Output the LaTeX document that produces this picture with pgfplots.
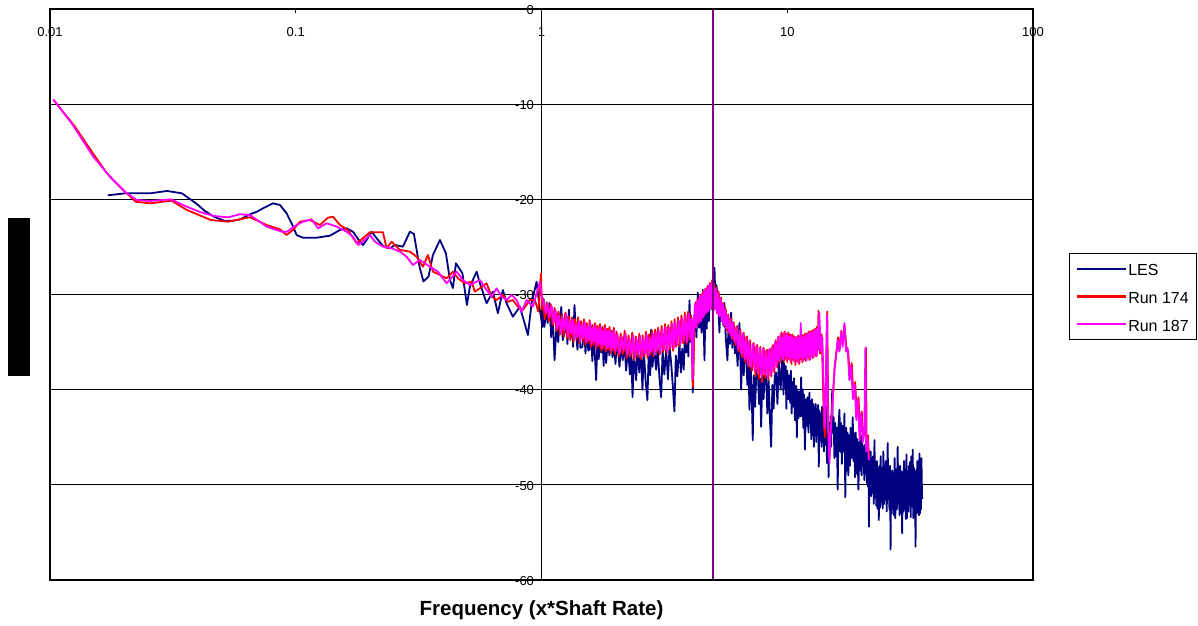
\documentclass[border=0pt]{standalone}
\usepackage{fontspec}
\setmainfont{Liberation Sans}
\usepackage{pgfplots}
\pgfplotsset{compat=1.18}
\definecolor{les}{RGB}{0,0,128}
\definecolor{runa}{RGB}{255,0,0}
\definecolor{runb}{RGB}{255,0,255}
\definecolor{marker}{RGB}{128,0,128}
\begin{document}
\begin{tikzpicture}
\begin{axis}[
  name=ax, at={(0pt,0pt)}, anchor=south west,
  scale only axis, width=983pt, height=571pt,
  xmode=log, xmin=0.01, xmax=100, ymin=-60, ymax=0,
  axis x line=middle, axis y line=middle,
  axis line style={-, black, line width=1.5pt},
  every inner x axis line/.append style={-},
  every inner y axis line/.append style={-},
  xtick={0.01,0.1,1,10,100}, xticklabels={0.01,0.1,1,10,100},
  ytick={-60,-50,-40,-30,-20,-10,0}, yticklabels={-60,-50,-40,-30,-20,-10,0},
  xminorticks=false, yminorticks=false,
  hide obscured x ticks=false, hide obscured y ticks=false,
  ymajorgrids, major grid style={black, line width=0.8pt},
  tick style={black, line width=0.8pt}, major tick length=4pt, tick align=outside,
  tick label style={font=\fontsize{13}{15}\selectfont},
  xticklabel style={yshift=-11pt},
  yticklabel style={xshift=0pt, yshift=-0.8pt},
  xlabel={Frequency (x*Shaft Rate)},
  xlabel style={at={(axis description cs:0.5,-0.0525)}, anchor=center, font=\bfseries\fontsize{20.5}{24}\selectfont},
  legend style={at={(axis description cs:1.0369,0.5722)}, anchor=north west, draw=black,
    inner xsep=6pt, inner ysep=6.5pt, row sep=9.6pt, font=\fontsize{16}{19}\selectfont,
    nodes={inner sep=1.5pt, text height=14.5pt, text depth=0.5pt}},
  legend cell align=left,
  legend image code/.code={\draw[#1, line width=2.3pt] (0pt,0pt) -- (49pt,0pt);},
]
\addplot[draw=les, color=les, line width=1.8pt, line join=round] coordinates {
(0.01718,-19.58) (0.02019,-19.37) (0.02324,-19.37) (0.02552,-19.37) (0.02993,-19.12) (0.03444,-19.37)
(0.03927,-20.42) (0.04273,-21.23) (0.04648,-21.82) (0.05153,-22.28) (0.05553,-22.24) (0.05929,-22.12)
(0.06512,-21.57) (0.06953,-21.30) (0.07355,-20.94) (0.08077,-20.42) (0.08624,-20.59) (0.09182,-21.47)
(0.09622,-22.52) (0.10084,-23.75) (0.1070,-24.03) (0.1216,-24.03) (0.1378,-23.82) (0.1513,-23.22)
(0.1611,-23.04) (0.1709,-23.40) (0.1825,-24.45) (0.1877,-24.80) (0.1943,-24.27) (0.2036,-23.40)
(0.2134,-24.09) (0.2264,-24.90) (0.2417,-25.14) (0.2533,-24.80) (0.2730,-24.97) (0.2915,-23.40)
(0.3026,-23.64) (0.3190,-27.08) (0.3308,-28.63) (0.3469,-28.13) (0.3616,-25.85) (0.3861,-24.27)
(0.4084,-25.67) (0.4240,-28.48) (0.4361,-29.32) (0.4485,-26.72) (0.4766,-27.77) (0.4972,-31.10)
(0.5113,-29.18) (0.5444,-27.60) (0.5615,-28.82) (0.5978,-30.92) (0.6343,-29.70) (0.6647,-31.97)
(0.6965,-29.53) (0.7210,-30.92) (0.7649,-32.33) (0.8167,-31.28) (0.8803,-34.25) (0.9113,-30.92)
(0.9549,-28.65) (0.985,-31.63) (1.009,-33.4) (1.02,-30.5) (1.028,-33.4) (1.045,-31.6) (1.06,-33.0)
(1.078,-30.9) (1.095,-34.5) (1.11,-32.0) (1.13,-36.9) (1.15,-33.5) (1.17,-35.0) (1.185,-32.5)
(1.204,-31.3) (1.22,-34.8) (1.242,-34.0) (1.26,-32.2) (1.275,-35.2) (1.293,-31.6) (1.31,-34.6)
(1.33,-32.8) (1.345,-35.5) (1.362,-31.1) (1.38,-33.9) (1.401,-35.8) (1.42,-33.0) (1.44,-35.6)
(1.468,-35.5) (1.49,-33.2) (1.51,-36.2) (1.53,-33.6) (1.55,-35.9) (1.568,-35.8) (1.59,-33.4)
(1.61,-37.0) (1.63,-34.2) (1.65,-36.5) (1.669,-39.0) (1.69,-34.5) (1.71,-36.8) (1.73,-33.8)
(1.749,-36.1) (1.77,-34.4) (1.79,-37.5) (1.81,-34.0) (1.833,-37.2) (1.86,-34.8) (1.89,-36.4)
(1.92,-34.3) (1.945,-36.6) (1.97,-34.9) (2.00,-37.3) (2.03,-34.5) (2.077,-37.6) (2.11,-35.0)
(2.14,-36.9) (2.176,-35.1) (2.21,-38.0) (2.25,-35.6) (2.29,-38.4) (2.32,-35.8) (2.346,-40.8)
(2.38,-36.3) (2.428,-39.0) (2.46,-35.4) (2.50,-38.2) (2.54,-35.9) (2.575,-40.0) (2.61,-36.0)
(2.65,-38.9) (2.698,-41.1) (2.73,-36.2) (2.77,-38.5) (2.794,-33.7) (2.83,-37.6) (2.87,-35.4)
(2.928,-37.9) (2.97,-35.6) (3.02,-38.8) (3.069,-40.8) (3.11,-35.9) (3.16,-38.4) (3.217,-35.8)
(3.27,-38.9) (3.32,-35.5) (3.370,-37.2) (3.42,-39.5) (3.476,-42.3) (3.52,-36.4) (3.57,-38.6)
(3.643,-35.1) (3.69,-38.2) (3.74,-35.7) (3.79,-37.9) (3.83,-34.6) (3.879,-36.1) (3.93,-33.5)
(3.96,-36.5) (4.001,-30.6) (4.05,-35.0) (4.09,-33.0) (4.127,-40.3) (4.17,-33.5) (4.22,-31.8)
(4.27,-34.5) (4.325,-29.8) (4.38,-33.5) (4.43,-31.2) (4.48,-34.0) (4.532,-29.5) (4.605,-36.9)
(4.65,-31.0) (4.70,-33.6) (4.75,-29.8) (4.80,-32.8) (4.85,-30.0) (4.903,-28.8) (4.95,-31.6)
(5.00,-29.0) (5.057,-27.2) (5.10,-30.5) (5.15,-29.0) (5.201,-30.3) (5.25,-31.5) (5.299,-34.0)
(5.35,-30.5) (5.40,-32.8) (5.45,-31.0) (5.50,-33.3) (5.553,-30.9) (5.62,-34.5) (5.711,-36.9)
(5.78,-32.5) (5.85,-35.2) (5.912,-31.9) (5.98,-35.6) (6.06,-33.2) (6.13,-36.2) (6.196,-34.5)
(6.28,-37.5) (6.391,-33.0) (6.494,-40.0) (6.57,-35.0) (6.65,-38.5) (6.73,-36.0) (6.805,-35.8)
(6.88,-39.5) (6.95,-37.0) (7.018,-42.1) (7.10,-37.5) (7.17,-40.5) (7.239,-45.3) (7.31,-38.5)
(7.40,-41.8) (7.49,-38.0) (7.586,-37.9) (7.68,-41.5) (7.75,-38.8) (7.831,-43.9) (7.92,-38.5)
(8.01,-41.0) (8.10,-38.2) (8.206,-38.7) (8.30,-42.5) (8.40,-39.0) (8.50,-43.0) (8.600,-46.0)
(8.70,-39.5) (8.80,-42.0) (8.90,-38.5) (9.012,-38.2) (9.12,-41.5) (9.25,-37.0) (9.40,-40.0)
(9.587,-35.8) (9.65,-40.5) (9.70,-37.2) (9.78,-39.8) (9.85,-37.5) (9.92,-42.0) (10.0,-38.0)
(10.1,-41.0) (10.21,-38.5) (10.28,-41.4) (10.35,-38.0) (10.42,-42.5) (10.50,-39.2) (10.58,-41.8)
(10.65,-38.8) (10.75,-43.2) (10.87,-39.6) (10.94,-45.0) (11.00,-40.0) (11.10,-43.0) (11.20,-40.2)
(11.30,-42.8) (11.39,-38.7) (11.47,-42.8) (11.55,-40.0) (11.62,-44.0) (11.70,-40.5) (11.80,-46.3)
(11.93,-41.0) (12.02,-43.8) (12.10,-40.8) (12.20,-44.5) (12.31,-40.3) (12.38,-43.5) (12.45,-41.2)
(12.52,-45.2) (12.60,-41.0) (12.68,-44.8) (12.75,-41.5) (12.83,-46.0) (12.90,-41.8) (12.98,-44.2)
(13.05,-41.5) (13.12,-45.5) (13.20,-42.0) (13.28,-44.6) (13.35,-41.6) (13.44,-48.1) (13.52,-42.2)
(13.60,-45.0) (13.70,-42.5) (13.78,-46.0) (13.85,-41.8) (13.93,-45.5) (14.00,-42.3) (14.10,-46.5)
(14.20,-42.0) (14.30,-45.8) (14.40,-41.8) (14.51,-47.7) (14.62,-43.0) (14.73,-49.2) (14.85,-43.5)
(14.93,-46.5) (15.00,-42.8) (15.08,-46.0) (15.15,-43.5) (15.24,-40.0) (15.32,-44.5) (15.44,-42.9)
(15.56,-47.2) (15.68,-43.5) (15.80,-47.0) (15.92,-44.0) (16.04,-50.5) (16.17,-43.8) (16.31,-42.1)
(16.43,-46.5) (16.55,-43.5) (16.68,-47.8) (16.80,-43.8) (16.95,-46.5) (17.09,-42.5) (17.23,-51.3)
(17.37,-44.0) (17.50,-48.5) (17.60,-44.5) (17.72,-49.0) (17.85,-44.8) (17.98,-48.0) (18.10,-44.0)
(18.28,-47.2) (18.47,-42.9) (18.61,-47.5) (18.75,-44.6) (18.88,-49.2) (19.00,-44.5) (19.15,-48.8)
(19.30,-45.2) (19.48,-50.5) (19.67,-45.5) (19.81,-48.5) (19.95,-44.8) (20.08,-49.0) (20.20,-45.6)
(20.33,-48.0) (20.45,-46.0) (20.58,-49.5) (20.70,-45.8) (20.82,-48.8) (20.94,-45.0) (21.07,-49.8)
(21.20,-46.0) (21.30,-50.2) (21.40,-46.2) (21.50,-54.4) (21.60,-47.0) (21.72,-50.5) (21.85,-46.5)
(21.98,-51.2) (22.10,-47.2) (22.22,-50.5) (22.35,-47.0) (22.50,-52.0) (22.64,-45.3) (22.77,-51.0)
(22.90,-47.8) (23.02,-52.2) (23.15,-47.5) (23.30,-52.5) (23.45,-48.2) (23.58,-53.7) (23.72,-48.0)
(23.86,-52.4) (24.00,-47.0) (24.15,-51.8) (24.30,-48.2) (24.45,-52.5) (24.60,-46.5) (24.75,-52.0)
(24.90,-48.0) (25.05,-51.6) (25.20,-47.5) (25.40,-52.8) (25.63,-45.6) (25.76,-51.5) (25.90,-48.2)
(26.05,-52.6) (26.20,-48.0) (26.33,-56.8) (26.47,-48.6) (26.61,-53.0) (26.75,-48.5) (26.90,-52.5)
(27.05,-48.8) (27.20,-53.2) (27.35,-47.2) (27.52,-53.5) (27.70,-48.4) (27.92,-52.6) (28.14,-46.0)
(28.30,-52.0) (28.45,-48.5) (28.62,-53.2) (28.80,-48.0) (29.00,-53.0) (29.20,-48.6) (29.35,-55.1)
(29.51,-49.0) (29.68,-52.8) (29.85,-47.5) (30.02,-52.5) (30.20,-48.4) (30.38,-53.6) (30.55,-46.8)
(30.72,-53.5) (30.90,-48.6) (31.08,-52.8) (31.25,-48.0) (31.42,-52.0) (31.60,-47.6) (31.80,-53.4)
(32.00,-47.0) (32.20,-52.3) (32.40,-46.3) (32.58,-53.5) (32.75,-48.2) (32.92,-52.0) (33.10,-48.5)
(33.27,-56.5) (33.44,-48.6) (33.62,-53.0) (33.80,-47.5) (33.98,-52.5) (34.15,-48.3) (34.33,-53.2)
(34.51,-46.7) (34.68,-53.0) (34.85,-47.9) (35.00,-52.6) (35.15,-47.2) (35.39,-51.5)
};
\addlegendentry{LES}
\addplot[runa, line width=1.8pt, line join=round] coordinates {
(0.01034,-9.56) (0.01264,-12.37) (0.01495,-15.16) (0.01706,-17.27) (0.01953,-18.84) (0.02232,-20.25)
(0.02552,-20.42) (0.03119,-20.14) (0.03609,-21.12) (0.04507,-22.17) (0.0530,-22.35) (0.06512,-21.88)
(0.07614,-22.70) (0.08624,-23.15) (0.09182,-23.75) (0.09741,-23.22) (0.1040,-22.35) (0.1142,-22.17)
(0.1254,-22.70) (0.1352,-21.93) (0.1417,-21.82) (0.1513,-22.70) (0.1631,-23.22) (0.1770,-24.62)
(0.1877,-24.09) (0.2004,-23.46) (0.2264,-23.46) (0.2343,-25.14) (0.2456,-24.45) (0.2573,-24.97)
(0.2654,-25.32) (0.2915,-25.50) (0.3104,-26.03) (0.3292,-27.08) (0.3450,-25.85) (0.3616,-27.60)
(0.3861,-27.95) (0.4111,-28.30) (0.4361,-27.60) (0.4570,-28.30) (0.4880,-28.82) (0.5195,-28.65)
(0.5358,-29.70) (0.5615,-29.35) (0.5978,-28.82) (0.6266,-30.23) (0.6566,-30.58) (0.6965,-30.05)
(0.7300,-30.76) (0.7649,-30.58) (0.8016,-31.28) (0.840,-31.63) (0.8969,-30.58) (0.940,-30.58)
(0.970,-31.8) (0.995,-27.8) (1.005,-31.6) (1.015,-30.4) (1.03,-32.6) (1.05,-30.8) (1.07,-32.8)
(1.09,-31.0) (1.11,-33.2) (1.13,-31.4) (1.15,-33.8) (1.17,-31.8) (1.19,-34.2) (1.21,-32.1)
(1.23,-34.4) (1.25,-31.9) (1.27,-34.6) (1.29,-32.3) (1.31,-34.8) (1.33,-32.4) (1.35,-35.0)
(1.37,-32.6) (1.39,-34.7) (1.41,-32.4) (1.43,-35.1) (1.45,-32.8) (1.47,-34.9) (1.49,-32.6)
(1.51,-35.3) (1.53,-33.0) (1.55,-35.1) (1.57,-32.7) (1.59,-35.5) (1.61,-33.2) (1.63,-35.3)
(1.65,-33.0) (1.67,-35.7) (1.69,-33.3) (1.71,-35.5) (1.73,-33.1) (1.75,-35.9) (1.77,-33.4)
(1.79,-35.7) (1.81,-33.2) (1.83,-36.0) (1.85,-33.6) (1.87,-35.8) (1.89,-33.4) (1.91,-36.2)
(1.93,-33.8) (1.95,-35.9) (1.97,-33.5) (1.99,-36.3) (2.02,-33.9) (2.06,-36.5) (2.10,-34.1)
(2.14,-36.3) (2.18,-33.8) (2.22,-36.7) (2.26,-34.3) (2.30,-36.5) (2.34,-34.0) (2.38,-36.9)
(2.42,-34.4) (2.46,-36.6) (2.50,-34.1) (2.54,-36.8) (2.58,-34.3) (2.62,-36.5) (2.66,-33.9)
(2.70,-36.7) (2.74,-34.2) (2.78,-36.3) (2.82,-33.8) (2.86,-36.5) (2.90,-33.7) (2.94,-36.1)
(2.98,-33.5) (3.03,-36.3) (3.08,-33.3) (3.13,-36.0) (3.18,-33.1) (3.23,-36.1) (3.28,-33.2)
(3.33,-35.8) (3.38,-32.8) (3.43,-35.9) (3.48,-32.6) (3.53,-35.5) (3.59,-32.4) (3.65,-35.4)
(3.71,-32.2) (3.77,-35.1) (3.83,-31.9) (3.89,-35.2) (3.95,-31.8) (4.01,-34.8) (4.07,-32.2)
(4.10,-35.5) (4.14,-39.7) (4.19,-33.0) (4.24,-30.8) (4.29,-33.3) (4.34,-30.4) (4.39,-32.9)
(4.44,-30.0) (4.49,-32.6) (4.54,-29.7) (4.59,-32.2) (4.64,-29.4) (4.69,-31.9) (4.74,-29.1)
(4.79,-31.6) (4.84,-28.8) (4.89,-31.4) (4.94,-28.5) (4.99,-31.2) (5.04,-28.9) (5.09,-31.5)
(5.14,-29.3) (5.20,-31.9) (5.26,-29.7) (5.32,-32.2) (5.38,-30.3) (5.44,-32.7) (5.50,-30.9)
(5.56,-33.3) (5.62,-31.5) (5.69,-33.8) (5.76,-32.1) (5.83,-34.2) (5.90,-32.5) (5.97,-34.7)
(6.05,-32.9) (6.15,-35.3) (6.25,-33.3) (6.35,-36.0) (6.45,-33.7) (6.55,-36.6) (6.65,-34.0)
(6.75,-37.1) (6.85,-34.4) (6.95,-37.6) (7.06,-34.8) (7.18,-38.0) (7.30,-35.1) (7.42,-38.5)
(7.54,-35.3) (7.66,-38.9) (7.78,-35.5) (7.90,-39.2) (8.02,-35.6) (8.14,-38.8) (8.26,-35.8)
(8.38,-39.0) (8.50,-35.7) (8.62,-38.6) (8.74,-35.3) (8.86,-38.2) (8.98,-34.8) (9.10,-37.7)
(9.22,-34.4) (9.34,-37.2) (9.47,-34.0) (9.55,-36.6) (9.62,-34.2) (9.70,-37.0) (9.77,-33.9)
(9.85,-36.7) (9.92,-34.1) (10.00,-37.1) (10.10,-34.0) (10.20,-36.8) (10.30,-34.2) (10.40,-37.3)
(10.50,-34.2) (10.60,-36.9) (10.70,-34.4) (10.80,-37.4) (10.90,-34.5) (11.00,-37.0) (11.10,-34.3)
(11.20,-37.3) (11.30,-34.4) (11.38,-36.8) (11.45,-34.2) (11.52,-37.1) (11.60,-34.3) (11.70,-36.8)
(11.80,-34.1) (11.90,-37.0) (12.00,-34.1) (12.10,-36.6) (12.20,-33.9) (12.30,-36.9) (12.40,-33.9)
(12.50,-36.5) (12.60,-33.8) (12.70,-36.7) (12.80,-33.7) (12.90,-36.3) (13.00,-33.6) (13.10,-36.5)
(13.20,-33.4) (13.30,-35.8) (13.40,-31.7) (13.60,-36.2) (13.80,-34.2) (13.95,-38.5) (14.10,-43.5)
(14.25,-45.0) (14.40,-38.0) (14.55,-31.8) (14.70,-44.5) (14.85,-47.0) (15.10,-43.0) (15.35,-40.5)
(15.60,-37.5) (15.85,-36.0) (16.10,-34.5) (16.35,-35.8) (16.60,-33.8) (16.85,-35.2) (17.10,-33.2)
(17.40,-35.5) (17.70,-36.0) (18.00,-38.8) (18.30,-37.2) (18.60,-40.8) (18.90,-39.2) (19.20,-42.8)
(19.50,-40.8) (19.80,-45.0) (20.10,-42.3) (20.40,-45.2) (20.70,-43.8) (20.90,-35.6) (21.05,-46.0)
(21.30,-44.8) (21.50,-47.0) (21.60,-47.2)
};
\addlegendentry{Run 174}
\addplot[runb, line width=1.8pt, line join=round] coordinates {
(0.01031,-9.49) (0.01225,-12.01) (0.01501,-15.52) (0.01754,-17.62) (0.02019,-19.20) (0.02253,-20.07)
(0.02552,-20.17) (0.03107,-20.00) (0.03599,-20.77) (0.04077,-21.33) (0.04648,-21.75) (0.0530,-21.89)
(0.05929,-21.57) (0.06512,-21.65) (0.07614,-22.87) (0.08787,-23.40) (0.09209,-23.40) (0.1008,-22.70)
(0.1070,-22.35) (0.1160,-22.10) (0.1234,-23.04) (0.1335,-22.52) (0.1467,-22.87) (0.1611,-23.40)
(0.1709,-23.93) (0.1797,-24.80) (0.1943,-24.09) (0.2004,-23.75) (0.2100,-24.45) (0.2264,-24.97)
(0.2456,-25.14) (0.2654,-25.50) (0.2826,-26.03) (0.2998,-26.90) (0.3201,-26.37) (0.3516,-27.08)
(0.3790,-27.60) (0.4111,-28.82) (0.4514,-27.60) (0.4789,-28.48) (0.5113,-29.00) (0.5615,-28.48)
(0.5978,-29.53) (0.6266,-30.23) (0.6566,-29.35) (0.6880,-30.23) (0.7210,-30.58) (0.7556,-30.05)
(0.7918,-30.58) (0.8298,-31.81) (0.8695,-30.58) (0.9225,-31.28) (0.985,-28.65) (1.0094,-30.58)
(1.045,-31.97) (1.06,-30.9) (1.08,-32.4) (1.10,-31.2) (1.12,-33.0) (1.14,-31.6) (1.16,-33.6)
(1.18,-32.2) (1.20,-34.0) (1.22,-32.4) (1.24,-33.8) (1.26,-32.0) (1.28,-34.4) (1.30,-32.7)
(1.32,-34.1) (1.34,-32.6) (1.36,-34.7) (1.38,-33.0) (1.40,-34.5) (1.42,-32.8) (1.44,-34.9)
(1.46,-33.1) (1.48,-34.6) (1.50,-32.9) (1.52,-35.0) (1.54,-33.3) (1.56,-34.8) (1.58,-33.0)
(1.60,-35.2) (1.62,-33.5) (1.64,-35.0) (1.66,-33.2) (1.68,-35.4) (1.70,-33.6) (1.72,-35.2)
(1.74,-33.4) (1.76,-35.6) (1.78,-33.8) (1.80,-35.3) (1.82,-33.5) (1.84,-35.7) (1.86,-33.9)
(1.88,-35.5) (1.90,-33.7) (1.92,-35.9) (1.94,-34.0) (1.96,-35.6) (1.98,-33.8) (2.00,-36.0)
(2.04,-34.2) (2.08,-36.2) (2.12,-34.4) (2.16,-35.9) (2.20,-34.1) (2.24,-36.4) (2.28,-34.6)
(2.32,-36.2) (2.36,-34.3) (2.40,-36.6) (2.44,-34.7) (2.48,-36.3) (2.52,-34.4) (2.56,-36.5)
(2.60,-34.6) (2.64,-36.2) (2.68,-34.2) (2.72,-36.4) (2.76,-34.5) (2.80,-36.0) (2.84,-34.1)
(2.88,-36.3) (2.92,-34.0) (2.96,-35.9) (3.00,-33.8) (3.05,-36.1) (3.10,-33.6) (3.15,-35.8)
(3.20,-33.4) (3.25,-35.9) (3.30,-33.5) (3.35,-35.6) (3.40,-33.1) (3.45,-35.7) (3.50,-32.9)
(3.56,-35.3) (3.62,-32.7) (3.68,-35.2) (3.74,-32.5) (3.80,-34.9) (3.86,-32.2) (3.92,-35.0)
(3.98,-32.0) (4.04,-34.6) (4.09,-32.5) (4.12,-38.9) (4.16,-33.8) (4.21,-31.0) (4.26,-33.5)
(4.31,-30.6) (4.36,-33.0) (4.41,-30.2) (4.46,-32.8) (4.51,-29.9) (4.56,-32.4) (4.61,-29.6)
(4.66,-32.0) (4.71,-29.3) (4.76,-31.8) (4.81,-29.0) (4.86,-31.5) (4.91,-28.8) (4.96,-31.3)
(5.01,-29.0) (5.06,-31.6) (5.11,-29.4) (5.17,-32.0) (5.23,-29.8) (5.29,-32.3) (5.35,-30.4)
(5.41,-32.8) (5.47,-31.0) (5.53,-33.2) (5.59,-31.6) (5.65,-33.6) (5.72,-32.2) (5.79,-34.0)
(5.86,-32.6) (5.93,-34.5) (6.00,-33.0) (6.10,-35.0) (6.20,-33.4) (6.30,-35.8) (6.40,-33.8)
(6.50,-36.3) (6.60,-34.1) (6.70,-36.8) (6.80,-34.5) (6.90,-37.3) (7.00,-34.9) (7.12,-37.6)
(7.24,-35.2) (7.36,-38.0) (7.48,-35.4) (7.60,-38.3) (7.72,-35.6) (7.84,-38.6) (7.96,-35.7)
(8.08,-38.4) (8.20,-35.9) (8.32,-38.7) (8.44,-35.8) (8.56,-38.5) (8.68,-35.5) (8.80,-38.0)
(8.92,-35.0) (9.04,-37.6) (9.16,-34.5) (9.28,-37.0) (9.40,-34.2) (9.47,-36.5) (9.55,-34.6)
(9.62,-36.8) (9.70,-34.0) (9.77,-36.4) (9.85,-34.3) (9.92,-36.9) (10.00,-34.1) (10.10,-36.6)
(10.20,-34.4) (10.30,-37.0) (10.40,-34.3) (10.50,-36.7) (10.60,-34.5) (10.70,-37.1) (10.80,-34.6)
(10.90,-36.8) (11.00,-34.4) (11.10,-37.2) (11.20,-34.5) (11.28,-36.5) (11.35,-33.0) (11.42,-36.7)
(11.50,-34.6) (11.60,-37.0) (11.70,-34.4) (11.80,-36.6) (11.90,-34.2) (12.00,-36.9) (12.10,-34.2)
(12.20,-36.5) (12.30,-34.0) (12.40,-36.8) (12.50,-34.0) (12.60,-36.4) (12.70,-33.9) (12.80,-36.6)
(12.90,-33.8) (13.00,-36.2) (13.10,-33.7) (13.20,-36.4) (13.30,-33.5) (13.40,-35.8) (13.50,-31.9)
(13.70,-36.0) (13.90,-34.5) (14.05,-39.5) (14.20,-44.0) (14.35,-40.0) (14.50,-32.2) (14.65,-43.5)
(14.85,-47.7) (15.05,-44.0) (15.30,-41.5) (15.56,-38.0) (15.80,-36.5) (16.04,-34.8) (16.30,-36.0)
(16.55,-34.0) (16.80,-35.5) (17.09,-33.0) (17.35,-36.0) (17.60,-35.6) (17.90,-39.0) (18.20,-37.5)
(18.50,-41.0) (18.80,-39.5) (19.10,-43.2) (19.40,-41.0) (19.70,-45.3) (20.00,-42.5) (20.30,-45.5)
(20.60,-44.0) (20.80,-35.6) (20.95,-46.5) (21.20,-45.0) (21.45,-47.2) (21.60,-47.4)
};
\addlegendentry{Run 187}
\addplot[marker, line width=1.6pt, forget plot] coordinates {(5,-60) (5,0)};
\end{axis}
\draw[black, line width=1.3pt] (ax.south west) rectangle (ax.north east);
\fill[black] (-42pt,204pt) rectangle (-20pt,362pt);
\pgfresetboundingbox
\path (-50pt,-45pt) rectangle (1148pt,580pt);
\end{tikzpicture}
\end{document}
